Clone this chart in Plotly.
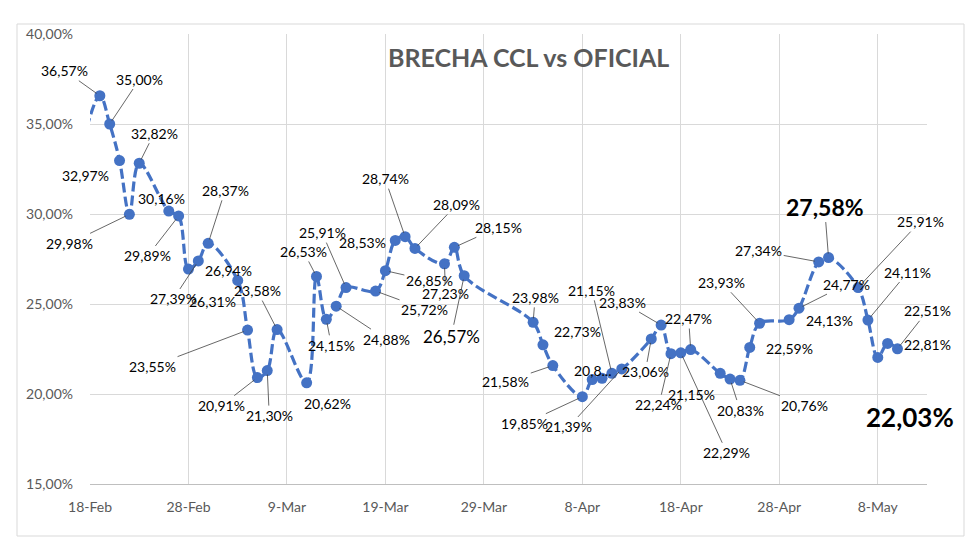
import plotly.graph_objects as go

# ---------------- data ----------------
dates = ["2024-02-16", "2024-02-19", "2024-02-20", "2024-02-21", "2024-02-22", "2024-02-23",
         "2024-02-26", "2024-02-27", "2024-02-28", "2024-02-29", "2024-03-01",
         "2024-03-04", "2024-03-05", "2024-03-06", "2024-03-07", "2024-03-08",
         "2024-03-11", "2024-03-12", "2024-03-13", "2024-03-14", "2024-03-15",
         "2024-03-18", "2024-03-19", "2024-03-20", "2024-03-21", "2024-03-22",
         "2024-03-25", "2024-03-26", "2024-03-27",
         "2024-04-03", "2024-04-04", "2024-04-05",
         "2024-04-08", "2024-04-09", "2024-04-10", "2024-04-11", "2024-04-12",
         "2024-04-15", "2024-04-16", "2024-04-17", "2024-04-18", "2024-04-19",
         "2024-04-22", "2024-04-23", "2024-04-24", "2024-04-25", "2024-04-26",
         "2024-04-29", "2024-04-30", "2024-05-02", "2024-05-03",
         "2024-05-06", "2024-05-07", "2024-05-08", "2024-05-09", "2024-05-10"]

brecha = [31.00, 36.57, 35.00, 32.97, 29.98, 32.82,
          30.16, 29.89, 26.94, 27.39, 28.37,
          26.31, 23.55, 20.91, 21.30, 23.58,
          20.62, 26.53, 24.15, 24.88, 25.91,
          25.72, 26.85, 28.53, 28.74, 28.09,
          27.23, 28.15, 26.57,
          23.98, 22.73, 21.58,
          19.85, 20.80, 20.87, 21.15, 21.39,
          23.06, 23.83, 22.24, 22.29, 22.47,
          21.15, 20.83, 20.76, 22.59, 23.93,
          24.13, 24.77, 27.34, 27.58,
          25.91, 24.11, 22.03, 22.81, 22.51]

point_labels = ["", "36,57%", "35,00%", "32,97%", "29,98%", "32,82%",
                "30,16%", "29,89%", "26,94%", "27,39%", "28,37%",
                "26,31%", "23,55%", "20,91%", "21,30%", "23,58%",
                "20,62%", "26,53%", "24,15%", "24,88%", "25,91%",
                "25,72%", "26,85%", "28,53%", "28,74%", "28,09%",
                "27,23%", "28,15%", "26,57%",
                "23,98%", "22,73%", "21,58%",
                "19,85%", "20,8...", "", "21,15%", "21,39%",
                "23,06%", "23,83%", "22,24%", "22,29%", "22,47%",
                "21,15%", "20,83%", "20,76%", "22,59%", "23,93%",
                "24,13%", "24,77%", "27,34%", "27,58%",
                "25,91%", "24,11%", "22,03%", "22,81%", "22,51%"]

y_ticks = [15, 20, 25, 30, 35, 40]
y_tick_text = ["15,00%", "20,00%", "25,00%", "30,00%", "35,00%", "40,00%"]
title_text = "BRECHA CCL vs OFICIAL"

# ---------------- label placement (pixel offsets, leader flag, style) ----------------
label_pos = [None, (-35, -25, 1, "n"), (30, -45, 1, "n"), (-34, 15, 0, "n"), (-60, 29, 1, "n"), (15, -30, 1, "n"),
             (-7, -13, 0, "n"), (-31, 40, 1, "n"), (40, 1, 0, "n"), (-25, 38, 1, "n"), (17, -53, 1, "n"),
             (-25, 21, 0, "n"), (-95, 36, 1, "n"), (-36, 28, 1, "n"), (2, 45, 1, "n"), (-20, -39, 1, "n"),
             (21, 21, 0, "n"), (-13, -25, 1, "n"), (5, 26, 1, "n"), (50, 33, 1, "n"), (-24, -55, 1, "n"),
             (49, 18, 1, "n"), (44, 10, 1, "n"), (-33, 2, 0, "n"), (-20, -58, 1, "n"), (42, -44, 1, "n"),
             (1, 30, 1, "n"), (44, -20, 1, "n"), (-13, 61, 1, "big"),
             (2, -25, 1, "n"), (35, -13, 0, "n"), (-47, 16, 1, "n"),
             (-58, 27, 1, "n"), (0, -9, 0, "n"), None, (-20, -83, 1, "n"), (-53, 58, 1, "n"),
             (-6, 33, 1, "n"), (-39, -23, 1, "n"), (-12, 51, 1, "n"), (46, 100, 1, "n"), (-2, -31, 1, "n"),
             (-29, 21, 0, "n"), (10, 31, 1, "n"), (65, 25, 1, "n"), (40, 1, 0, "n"), (-38, -41, 1, "n"),
             (40, 1, 0, "n"), (48, -24, 1, "n"), (-60, -11, 1, "n"), (-4, -51, 1, "b1"),
             (62, -66, 1, "n"), (40, -48, 1, "n"), (32, 60, 1, "b2"), (40, 1, 0, "n"), (30, -38, 1, "n")]

styles = {"n": dict(size=14, bold=False), "big": dict(size=17, bold=False),
          "b1": dict(size=23, bold=True), "b2": dict(size=26, bold=True)}

FONT = "Lato, 'Open Sans', sans-serif"
BLUE = "#4472C4"
GRID = "#d9d9d9"

# page body has an 8px default margin -> figure drawn 8px in from the window corner
OFF = 8
W, H = 980 - OFF, 557 - OFF
L, T = 90 - OFF, 34 - OFF          # plot-area left / top in window pixels minus offset
PW, PH = 837, 450                 # plot-area size
R, B = W - L - PW, H - T - PH


def px_x(x):  # window pixel -> paper x
    return (x - OFF - L) / PW


def px_y(y):  # window pixel -> paper y
    return (T + PH - (y - OFF)) / PH


fig = go.Figure()
fig.add_trace(go.Scatter(
    x=dates, y=brecha, mode="lines+markers",
    line=dict(color=BLUE, width=3.2, dash="10px,4px", shape="spline", smoothing=1),
    marker=dict(color=BLUE, size=11),
    hoverinfo="x+y", showlegend=False,
))

annotations = []
for d, v, txt, pos in zip(dates, brecha, point_labels, label_pos):
    if not txt or pos is None:
        continue
    dx, dy, leader, st = pos
    s = styles[st]
    t = f"<b>{txt}</b>" if s["bold"] else txt
    a = dict(x=d, y=v, xref="x", yref="y", text=t,
             font=dict(family=FONT, size=s["size"], color="#000000"))
    if leader:
        a.update(showarrow=True, ax=dx, ay=dy, arrowhead=0, arrowwidth=0.8,
                 arrowcolor="#404040", standoff=4)
    else:
        a.update(showarrow=False, xshift=dx, yshift=-dy)
    annotations.append(a)

# title
annotations.append(dict(text=f"<b>{title_text}</b>", xref="paper", yref="paper",
                        x=px_x(528), y=px_y(57), xanchor="center", yanchor="middle",
                        showarrow=False,
                        font=dict(family=FONT, size=25, color="#595959")))

fig.update_layout(
    width=W, height=H,
    margin=dict(l=L, r=R, t=T, b=B, pad=0, autoexpand=False),
    paper_bgcolor="white", plot_bgcolor="white",
    annotations=annotations,
    shapes=[dict(type="rect", xref="paper", yref="paper",
                 x0=px_x(17), x1=px_x(964), y0=px_y(536), y1=px_y(24),
                 line=dict(color=GRID, width=1), fillcolor="rgba(0,0,0,0)", layer="below")],
)
fig.update_xaxes(
    type="date", range=["2024-02-18", "2024-05-13"], automargin=False,
    tick0="2024-02-18", dtick=10 * 24 * 3600 * 1000, tickformat="%-d-%b",
    showgrid=True, gridcolor=GRID, gridwidth=1,
    showline=True, linecolor="#bfbfbf", linewidth=1,
    ticks="", ticklabelstandoff=10,
    tickfont=dict(family=FONT, size=14, color="#595959"),
)
fig.update_yaxes(
    range=[15, 40], tickvals=y_ticks, ticktext=y_tick_text, automargin=False,
    showgrid=True, gridcolor=GRID, gridwidth=1, zeroline=False,
    showline=False, ticks="", ticklabelstandoff=16,
    tickfont=dict(family=FONT, size=14, color="#595959"),
)

fig.write_html("out.html")
